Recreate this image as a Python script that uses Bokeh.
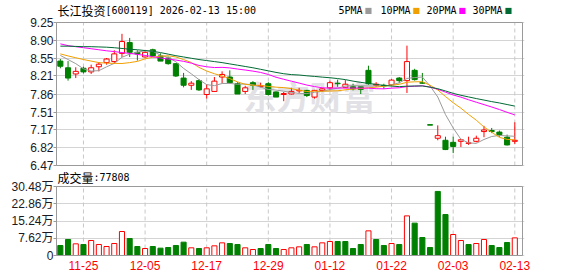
from bokeh.plotting import figure
from bokeh.models import ColumnDataSource, Range1d, FixedTicker, Label, NumeralTickFormatter
from bokeh.layouts import column
from bokeh.embed import file_html
from bokeh.resources import INLINE

# ---------------- data ----------------
dates = ["11-20", "11-21", "11-24", "11-25", "11-26", "11-27", "11-28",
         "12-01", "12-02", "12-03", "12-04", "12-05", "12-08", "12-09", "12-10", "12-11", "12-12",
         "12-15", "12-16", "12-17", "12-18", "12-19", "12-22", "12-23", "12-24", "12-25", "12-26",
         "12-29", "12-30", "12-31", "01-05", "01-06", "01-07", "01-08", "01-09",
         "01-12", "01-13", "01-14", "01-15", "01-16", "01-19", "01-20", "01-21", "01-22", "01-23",
         "01-26", "01-27", "01-28", "01-29", "01-30", "02-02", "02-03", "02-04", "02-05", "02-06",
         "02-09", "02-10", "02-11", "02-12", "02-13"]

opens = [8.50, 8.37, 8.25, 8.36, 8.29, 8.39, 8.47, 8.49, 8.65, 8.86,
         8.67, 8.58, 8.72, 8.60, 8.56, 8.45, 8.17, 8.03, 8.12, 7.85,
         7.91, 8.19, 8.19, 8.06, 7.91, 8.08, 8.01, 8.06, 7.90, 7.85,
         7.86, 7.92, 7.93, 7.80, 7.93, 7.98, 8.07, 7.99, 8.00, 8.00,
         8.32, 8.03, 8.03, 8.04, 8.17, 8.12, 8.32, 8.08, 7.26, 7.00,
         6.96, 6.92, 6.94, 6.90, 6.94, 7.13, 7.15, 7.12, 7.02, 6.94]
highs = [8.54, 8.50, 8.38, 8.39, 8.43, 8.48, 8.56, 8.71, 9.03, 8.95,
         8.71, 8.69, 8.74, 8.65, 8.59, 8.45, 8.27, 8.11, 8.15, 8.05,
         8.19, 8.30, 8.32, 8.09, 8.02, 8.11, 8.08, 8.09, 7.91, 7.90,
         7.98, 7.98, 7.94, 7.94, 7.98, 8.12, 8.14, 8.13, 8.06, 8.00,
         8.41, 8.09, 8.06, 8.15, 8.19, 8.80, 8.35, 8.27, 7.26, 7.25,
         7.03, 7.03, 6.99, 7.03, 7.05, 7.24, 7.20, 7.15, 7.07, 7.31]
lows = [8.36, 8.12, 8.17, 8.26, 8.25, 8.30, 8.43, 8.45, 8.58, 8.58,
        8.51, 8.57, 8.58, 8.50, 8.43, 8.19, 7.99, 7.94, 7.92, 7.77,
        7.90, 8.07, 8.06, 7.86, 7.86, 7.94, 7.99, 7.83, 7.80, 7.72,
        7.85, 7.88, 7.80, 7.77, 7.90, 7.93, 8.00, 7.98, 7.93, 7.86,
        8.04, 8.00, 7.96, 8.02, 8.07, 7.88, 8.12, 8.06, 7.26, 6.96,
        6.77, 6.71, 6.83, 6.87, 6.92, 7.02, 7.10, 7.03, 6.86, 6.89]
closes = [8.40, 8.17, 8.30, 8.29, 8.37, 8.44, 8.54, 8.64, 8.88, 8.67,
          8.64, 8.67, 8.60, 8.50, 8.45, 8.21, 8.03, 8.07, 7.94, 7.96,
          8.11, 8.24, 8.08, 7.86, 7.98, 8.03, 8.02, 7.85, 7.80, 7.87,
          7.91, 7.93, 7.83, 7.93, 7.96, 8.08, 8.06, 8.05, 7.96, 7.95,
          8.06, 8.05, 8.02, 8.13, 8.12, 8.49, 8.14, 8.07, 7.26, 7.05,
          6.78, 6.84, 6.97, 6.91, 7.00, 7.16, 7.13, 7.07, 6.87, 6.96]

volumes = [44200, 70700, 51500, 48600, 66200, 48600, 39700, 53000, 106000, 75000,
           39700, 30900, 39700, 32400, 35300, 44200, 58900, 33900, 30900, 33900,
           42700, 55900, 53000, 48600, 33900, 26500, 30900, 48600, 30900, 26500,
           33900, 38300, 48600, 38300, 55900, 61800, 61800, 61800, 30900, 48600,
           108900, 70700, 44200, 53000, 48600, 175000, 143000, 79500, 35300, 283000,
           181000, 92700, 66200, 48600, 53000, 70700, 44200, 35300, 57400, 77808]

ma5 = [8.61, 8.53, 8.45, 8.35, 8.306, 8.314, 8.388, 8.456, 8.574, 8.634,
       8.674, 8.700, 8.692, 8.616, 8.572, 8.486, 8.358, 8.252, 8.140, 8.042,
       8.022, 8.064, 8.066, 8.050, 8.054, 8.038, 7.994, 7.948, 7.936, 7.914,
       7.890, 7.872, 7.868, 7.894, 7.912, 7.946, 7.972, 8.016, 8.022, 8.020,
       8.016, 8.014, 8.008, 8.042, 8.076, 8.162, 8.180, 8.190, 8.016, 7.802,
       7.460, 7.200, 6.980, 6.910, 6.900, 6.976, 7.034, 7.054, 7.046, 7.038]
ma10 = [8.64, 8.60, 8.565, 8.53, 8.50, 8.47, 8.46, 8.455, 8.453, 8.470,
        8.494, 8.544, 8.574, 8.595, 8.603, 8.580, 8.529, 8.472, 8.378, 8.307,
        8.254, 8.211, 8.159, 8.095, 8.048, 8.030, 8.029, 8.007, 7.993, 7.984,
        7.964, 7.933, 7.908, 7.915, 7.913, 7.918, 7.922, 7.942, 7.958, 7.966,
        7.981, 7.993, 8.012, 8.032, 8.048, 8.089, 8.097, 8.099, 8.029, 7.939,
        7.811, 7.690, 7.585, 7.463, 7.351, 7.218, 7.117, 7.017, 6.978, 6.969]
ma20 = [8.835, 8.80, 8.78, 8.76, 8.74, 8.72, 8.70, 8.685, 8.665, 8.65,
        8.63, 8.61, 8.585, 8.56, 8.54, 8.52, 8.495, 8.46, 8.415, 8.389,
        8.374, 8.378, 8.367, 8.345, 8.326, 8.305, 8.279, 8.240, 8.186, 8.146,
        8.109, 8.072, 8.034, 8.005, 7.981, 7.974, 7.976, 7.975, 7.976, 7.975,
        7.973, 7.963, 7.960, 7.974, 7.981, 8.004, 8.010, 8.021, 7.994, 7.953,
        7.896, 7.842, 7.799, 7.748, 7.700, 7.654, 7.607, 7.558, 7.504, 7.454]
ma30 = [8.79, 8.79, 8.785, 8.78, 8.78, 8.775, 8.77, 8.76, 8.745, 8.73,
        8.72, 8.705, 8.69, 8.665, 8.635, 8.605, 8.58, 8.555, 8.53, 8.51,
        8.49, 8.47, 8.445, 8.42, 8.395, 8.37, 8.34, 8.31, 8.28, 8.254,
        8.237, 8.229, 8.214, 8.202, 8.188, 8.176, 8.160, 8.140, 8.110, 8.086,
        8.066, 8.046, 8.026, 8.014, 8.003, 8.012, 8.016, 8.016, 7.993, 7.963,
        7.919, 7.872, 7.835, 7.803, 7.771, 7.742, 7.712, 7.686, 7.655, 7.625]

price_ticks = [6.47, 6.82, 7.17, 7.51, 7.86, 8.21, 8.55, 8.90, 9.25]
vol_ticks = [0, 76200, 152400, 228600, 304800]
vol_tick_labels = ["0", "7.62万", "15.24万", "22.86万", "30.48万"]
date_tick_labels = ["11-25", "12-05", "12-17", "12-29", "01-12", "01-22", "02-03", "02-13"]

title_name = "长江投资"
title_rest = "[600119] 2026-02-13 15:00"
ma_names = ["5PMA", "10PMA", "20PMA", "30PMA"]
vol_title = "成交量"
watermark = "东方财富"

# ---------------- styling ----------------
RED = "#ff0000"
GREEN = "#008000"
MA_COLORS = ["#9a9a9a", "#f0a000", "#ff00ff", "#006a35"]
GRID = "#d4d4d4"
VGRID = "#c8c8c8"
FRAME = "#9a9a9a"
TXT = "#1a1a24"
NUM_FONT = "Liberation Sans"
CJK_FONT = "Noto Sans CJK SC"
MONO_FONT = "DejaVu Sans Mono"

W, H = 578, 276
n = len(dates)
xs = list(range(n))
date_tick_idx = [dates.index(d) for d in date_tick_labels]

# plot box (the grey frame) in page pixels; the bokeh frame is a bit larger so
# that the header texts and the box border lines are inside it (not clipped)
BOX_L, BOX_R = 56, 522
PAD = 2
X0, X1 = -0.5, n
PPU = (BOX_R - BOX_L) / (X1 - X0)
XR = Range1d(X0 - PAD / PPU, X1 + PAD / PPU)


def px2x(px):
    return X0 + (px - BOX_L) / PPU


up = [c > o for o, c in zip(opens, closes)]
src = ColumnDataSource(dict(
    x=xs, top=[max(o, c) for o, c in zip(opens, closes)],
    bottom=[min(o, c) for o, c in zip(opens, closes)],
    high=highs, low=lows,
    fill=["white" if u else GREEN for u in up],
    line=[RED if u else GREEN for u in up],
))
flat = [i for i in xs if abs(opens[i] - closes[i]) < 1e-9]
flat_src = ColumnDataSource(dict(
    x0=[i - 0.33 for i in flat], x1=[i + 0.33 for i in flat],
    y=[closes[i] for i in flat], line=[RED if up[i] else GREEN for i in flat]))

vol_up = [closes[0] > opens[0]] + [closes[i] > closes[i - 1] for i in range(1, n)]
vsrc = ColumnDataSource(dict(
    x=xs, top=volumes,
    fill=["white" if u else GREEN for u in vol_up],
    line=[RED if u else GREEN for u in vol_up],
))


def style(fig, ticks, lo, hi):
    fig.outline_line_color = None
    fig.xgrid.visible = False
    fig.ygrid.ticker = FixedTicker(ticks=ticks)
    fig.ygrid.grid_line_color = GRID
    fig.yaxis.ticker = FixedTicker(ticks=ticks)
    for ax in fig.yaxis:
        ax.axis_line_color = None
        ax.major_tick_line_color = FRAME
        ax.major_tick_out = 1
        ax.major_tick_in = PAD
        ax.minor_tick_line_color = None
        ax.major_label_standoff = 0
        ax.major_label_text_font = NUM_FONT + ", " + CJK_FONT
        ax.major_label_text_font_size = "12px"
        ax.major_label_text_color = TXT
    # dashed vertical grid at the date ticks, inside the box only
    fig.segment(x0=date_tick_idx, x1=date_tick_idx, y0=[lo] * len(date_tick_idx),
                y1=[hi] * len(date_tick_idx), line_color=VGRID, line_dash="4 3", line_width=1)


def box(fig, lo, hi):
    fig.quad(left=X0, right=X1, bottom=lo, top=hi, fill_color=None,
             line_color=FRAME, line_width=1)


def text(fig, x, y, s, font, size, color="#000000"):
    fig.add_layout(Label(x=x, y=y, text=s, text_font=font, text_font_size=size,
                         text_color=color, text_baseline="middle"))


# ---------------- price panel ----------------
PH = 174                          # price canvas: page y 0..174
P_TOP, P_BOT = 22, 165            # page pixels of 9.25 and 6.47
PLO, PHI = price_ticks[0], price_ticks[-1]
PPX = (PHI - PLO) / (P_BOT - P_TOP)


def py2y(py):
    return PHI - (py - P_TOP) * PPX


p = figure(width=W, height=PH, x_range=XR,
           y_range=Range1d(py2y(P_BOT + PAD), py2y(0)),
           output_backend="svg", toolbar_location=None, tools="",
           min_border_left=BOX_L - PAD, min_border_right=W - BOX_R - PAD, min_border_top=0,
           min_border_bottom=PH - P_BOT - PAD)
p.background_fill_color = "white"
p.border_fill_color = "white"
p.xaxis.visible = False
style(p, price_ticks, PLO, PHI)
p.yaxis.formatter = NumeralTickFormatter(format="0.00")

p.add_layout(Label(x=px2x(243), y=py2y(95), text=watermark, text_font=CJK_FONT,
                   text_font_style="bold", text_font_size="33px", text_color="#e2e2e6",
                   text_baseline="middle", level="underlay"))

p.segment(x0="x", y0="high", x1="x", y1="low", line_color="line", line_width=1, source=src)
p.vbar(x="x", top="top", bottom="bottom", width=0.66, fill_color="fill", line_color="line",
       line_width=1, source=src)
p.segment(x0="x0", y0="y", x1="x1", y1="y", line_color="line", line_width=1, source=flat_src)

for ma, col in zip([ma5, ma10, ma20, ma30], MA_COLORS):
    p.line(xs, ma, line_color=col, line_width=1)
box(p, PLO, PHI)

# header texts
text(p, px2x(57), py2y(10), title_name, CJK_FONT, "12px")
text(p, px2x(105), py2y(10), title_rest, MONO_FONT, "10px")
leg_text_px = [338, 380, 426, 472]
leg_box_px = [364, 412, 458, 504]
for name, col, tx, bx in zip(ma_names, MA_COLORS, leg_text_px, leg_box_px):
    text(p, px2x(tx), py2y(10), name, MONO_FONT, "10px")
    text(p, px2x(bx), py2y(10), "■", "DejaVu Sans", "8px", color=col)

# ---------------- volume panel (transparent, overlapping the price canvas a little) ----------------
V_START = 160                     # page y where the volume canvas begins
VH = H - V_START
V_TOP, V_BOT = 186, 255           # page pixels of top tick and 0
VLO, VHI = vol_ticks[0], vol_ticks[-1]
VPX = (VHI - VLO) / (V_BOT - V_TOP)


def vy(py):
    return VHI - (py - V_TOP) * VPX


v = figure(width=W, height=VH, x_range=XR, y_range=Range1d(vy(V_BOT + PAD), vy(V_START)),
           output_backend="svg", toolbar_location=None, tools="",
           min_border_left=BOX_L - PAD, min_border_right=W - BOX_R - PAD, min_border_top=0,
           min_border_bottom=H - V_BOT - PAD)
v.background_fill_color = None
v.border_fill_color = None
v.margin = (V_START - PH, 0, 0, 0)
style(v, vol_ticks, VLO, VHI)
v.yaxis.major_label_overrides = {t: s for t, s in zip(vol_ticks, vol_tick_labels)}
v.xaxis.ticker = FixedTicker(ticks=date_tick_idx)
v.xaxis.major_label_overrides = {i: d for i, d in zip(date_tick_idx, date_tick_labels)}
v.xaxis.axis_line_color = None
v.xaxis.major_tick_line_color = None
v.xaxis.minor_tick_line_color = None
v.xaxis.major_tick_out = 0
v.xaxis.major_tick_in = 0
v.xaxis.major_label_standoff = 3
v.xaxis.major_label_text_color = RED
v.xaxis.major_label_text_font = NUM_FONT
v.xaxis.major_label_text_font_size = "12px"

v.vbar(x="x", top="top", bottom=0, width=0.66, fill_color="fill", line_color="line",
       line_width=1, source=vsrc)
box(v, VLO, VHI)

text(v, px2x(57), vy(177), vol_title, CJK_FONT, "12px")
text(v, px2x(93), vy(177), ":" + str(volumes[-1]), MONO_FONT, "10px")

layout = column(p, v, spacing=0)
with open("out.html", "w") as f:
    f.write(file_html(layout, INLINE))
